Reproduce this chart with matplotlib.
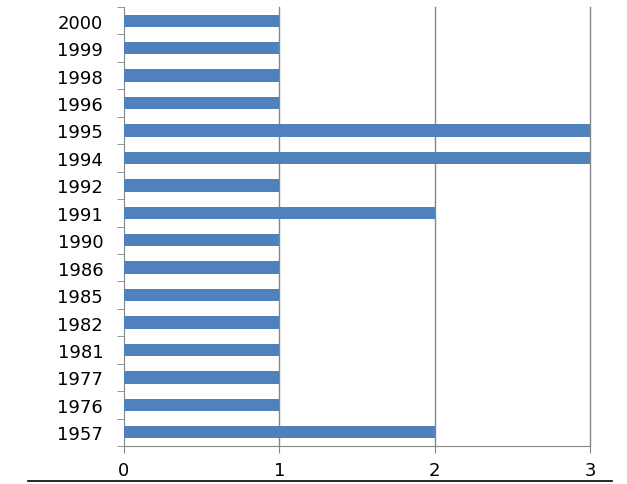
import matplotlib
matplotlib.use("Agg")
import matplotlib.pyplot as plt
import numpy as np
from matplotlib.lines import Line2D

years = ["1957", "1976", "1977", "1981", "1982", "1985", "1986", "1990",
         "1991", "1992", "1994", "1995", "1996", "1998", "1999", "2000"]
counts = [2, 1, 1, 1, 1, 1, 1, 1, 2, 1, 3, 3, 1, 1, 1, 1]
xticks = [0, 1, 2, 3]

plt.rcParams['font.family'] = ['DejaVu Sans']

fig = plt.figure(figsize=(6.27, 4.85), dpi=100)
ax = fig.add_axes([124/627, 1 - 447/485, (590 - 124)/627, (447 - 8)/485])

pos = np.arange(len(years))
ax.barh(pos, counts, height=0.45, color="#4F81BD", zorder=3)
ax.set_ylim(-0.5, len(years) - 0.5)
ax.set_xlim(0, 3)

ax.set_xticks(xticks)
ax.set_xticklabels([str(v) for v in xticks], fontsize=13)
ax.set_yticks(pos)
ax.set_yticklabels(years, fontsize=13)
ax.tick_params(axis='y', length=0, pad=15)
ax.set_yticks(np.arange(-0.5, len(years), 1), minor=True)
ax.tick_params(axis='y', which='minor', length=5, color="#868686", direction='out')
ax.tick_params(axis='x', length=5, color="#868686", pad=6)

for xv in xticks[1:]:
    ax.axvline(xv, color="#868686", linewidth=1, zorder=0, clip_on=False)
for s in ['top', 'right']:
    ax.spines[s].set_visible(False)
for s in ['left', 'bottom']:
    ax.spines[s].set_color("#868686")

fig.add_artist(Line2D([28/627, 612/627], [1 - 482/485, 1 - 482/485],
                      color='black', linewidth=1.2, transform=fig.transFigure))

fig.savefig("out.png", dpi=100)
